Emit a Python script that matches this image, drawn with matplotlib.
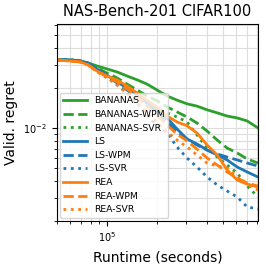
import matplotlib
matplotlib.use("Agg")
import matplotlib.pyplot as plt

runtime = [5.0e4, 6.0e4, 6.9e4, 7.7e4, 8.7e4, 1.0e5, 1.15e5, 1.32e5, 1.52e5, 1.74e5,
           2.0e5, 2.3e5, 2.64e5, 3.03e5, 3.48e5, 4.0e5, 4.6e5, 5.28e5, 6.07e5, 6.97e5, 8.1e5]

bananas = [3.25, 3.25, 3.19, 3.08, 2.93, 2.78, 2.64, 2.46, 2.30, 2.14, 1.93, 1.74, 1.62,
           1.52, 1.46, 1.37, 1.30, 1.23, 1.19, 1.13, 1.00]
bananas_wpm = [3.25, 3.25, 3.19, 3.03, 2.83, 2.59, 2.38, 2.14, 1.93, 1.74, 1.60, 1.44, 1.32,
               1.21, 1.09, 0.949, 0.812, 0.707, 0.649, 0.585, 0.545]
bananas_svr = [3.25, 3.25, 3.19, 3.03, 2.78, 2.50, 2.26, 2.00, 1.77, 1.57, 1.41, 1.30, 1.21,
               1.11, 0.886, 0.707, 0.605, 0.527, 0.459, 0.366, 0.303]
ls = [3.25, 3.25, 3.19, 3.08, 2.78, 2.50, 2.22, 2.00, 1.77, 1.54, 1.37, 1.19, 0.983,
      0.827, 0.758, 0.683, 0.627, 0.575, 0.509, 0.467, 0.428]
ls_wpm = [3.25, 3.25, 3.19, 3.08, 2.78, 2.46, 2.18, 1.93, 1.71, 1.49, 1.30, 1.11, 0.933,
          0.827, 0.745, 0.683, 0.638, 0.605, 0.575, 0.545, 0.518]
ls_svr = [3.25, 3.25, 3.19, 3.03, 2.73, 2.42, 2.11, 1.83, 1.54, 1.25, 1.05, 0.917, 0.720,
          0.595, 0.509, 0.428, 0.373, 0.336, 0.303, 0.255, 0.246]
rea = [3.25, 3.19, 3.14, 2.98, 2.68, 2.46, 2.30, 2.07, 1.83, 1.62, 1.44, 1.23, 1.11,
       1.04, 0.917, 0.745, 0.627, 0.483, 0.406, 0.379, 0.360]
rea_wpm = [3.25, 3.19, 3.14, 2.98, 2.68, 2.42, 2.22, 1.97, 1.71, 1.46, 1.25, 1.05, 0.901,
           0.798, 0.695, 0.595, 0.527, 0.467, 0.421, 0.386, 0.366]
rea_svr = [3.25, 3.19, 3.14, 2.98, 2.64, 2.38, 2.11, 1.83, 1.57, 1.32, 1.11, 0.933, 0.812,
           0.720, 0.627, 0.545, 0.518, 0.500, 0.428, 0.373, 0.342]

labels = ["BANANAS", "BANANAS-WPM", "BANANAS-SVR", "LS", "LS-WPM", "LS-SVR",
          "REA", "REA-WPM", "REA-SVR"]
series = [bananas, bananas_wpm, bananas_svr, ls, ls_wpm, ls_svr, rea, rea_wpm, rea_svr]
colors = ["tab:green"] * 3 + ["tab:blue"] * 3 + ["tab:orange"] * 3
styles = ["-", "--", ":"] * 3
scale = 1e-2

fig = plt.figure(figsize=(2.66, 2.64), dpi=100)
ax = fig.add_axes([0.214, 0.163, 0.756, 0.746])

for lab, ys, c, s in zip(labels, series, colors, styles):
    ax.plot(runtime, [v * scale for v in ys], color=c, linestyle=s, linewidth=2, label=lab)

ax.set_xscale("log")
ax.set_yscale("log")
ax.set_xlim(5.0e4, 8.1e5)
ax.set_ylim(2.0e-3, 6.05e-2)
ax.grid(True, which="both", color="#dddddd", linewidth=0.8)
ax.set_axisbelow(True)
ax.tick_params(labelsize=7)
ax.set_title("NAS-Bench-201 CIFAR100", fontsize=10.5)
ax.set_xlabel("Runtime (seconds)", fontsize=10)
ax.set_ylabel("Valid. regret", fontsize=10)
ax.legend(loc="lower left", fontsize=6.7, handlelength=2.5, labelspacing=0.5,
          borderaxespad=0.3)

fig.savefig("out.png", dpi=100)
